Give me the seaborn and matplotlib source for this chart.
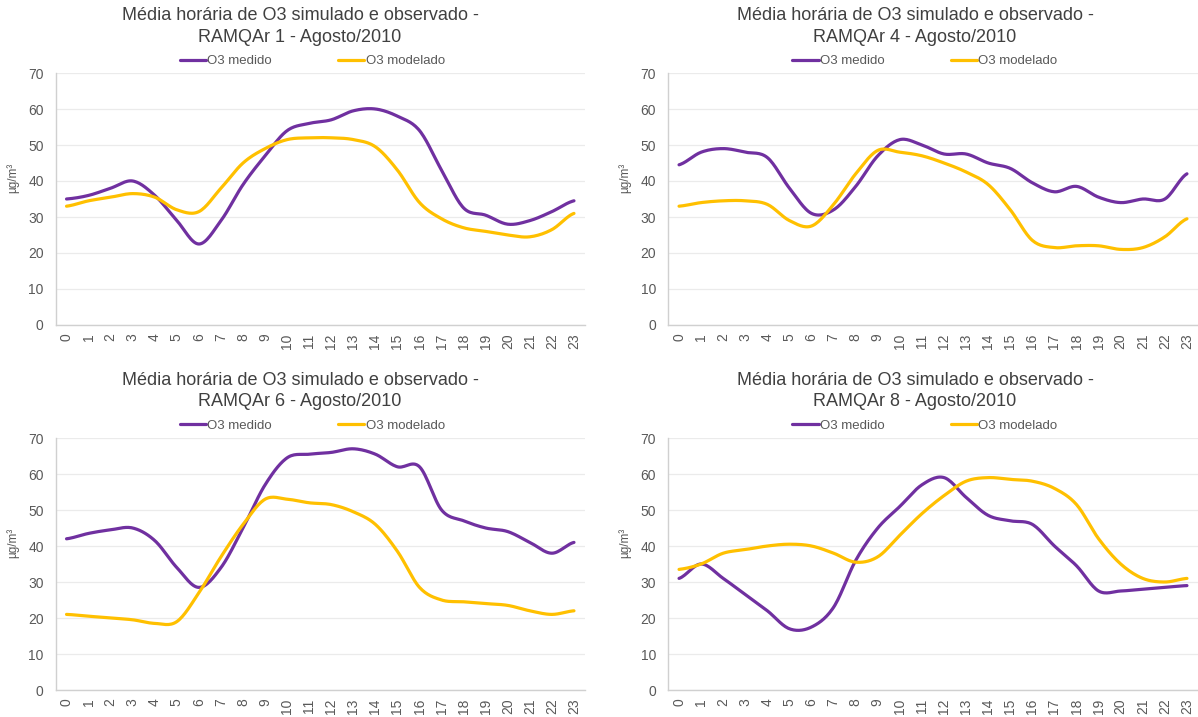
import numpy as np
import pandas as pd
import matplotlib
matplotlib.use("Agg")
import matplotlib.pyplot as plt
import seaborn as sns

# ==========================================
# DATA
# ==========================================
hours = list(range(24))

estacoes = ["RAMQAr 1", "RAMQAr 4", "RAMQAr 6", "RAMQAr 8"]

medido_r1 = [35, 36, 38, 40, 36, 29, 22.5, 29, 39, 47, 54, 56, 57, 59.5, 60, 58, 54, 43, 32.5, 30.5, 28, 29, 31.5, 34.5]
modelado_r1 = [33, 34.5, 35.5, 36.5, 35.5, 32, 31.5, 38, 45, 49, 51.5, 52, 52, 51.5, 49.5, 43, 34, 29.5, 27, 26, 25, 24.5, 26.5, 31]

medido_r4 = [44.5, 48, 49, 48, 46.5, 38, 31, 32, 38.5, 47, 51.5, 50, 47.5, 47.5, 45, 43.5, 39.5, 37, 38.5, 35.5, 34, 35, 35, 42]
modelado_r4 = [33, 34, 34.5, 34.5, 33.5, 29, 27.5, 33.5, 42, 48.5, 48, 47, 45, 42.5, 39, 32, 23.5, 21.5, 22, 22, 21, 21.5, 24.5, 29.5]

medido_r6 = [42, 43.5, 44.5, 45, 41.5, 34, 28.5, 34, 45, 57, 64.5, 65.5, 66, 67, 65.5, 62, 62, 50, 47, 45, 44, 41, 38, 41]
modelado_r6 = [21, 20.5, 20, 19.5, 18.5, 19, 27, 37, 46, 53, 53, 52, 51.5, 49.5, 46, 38.5, 28.5, 25, 24.5, 24, 23.5, 22, 21, 22]

medido_r8 = [31, 35, 31, 26.5, 22, 17, 17.5, 23, 36, 45, 51, 57, 59, 53.5, 48.5, 47, 46, 40, 34.5, 27.5, 27.5, 28, 28.5, 29]
modelado_r8 = [33.5, 35, 38, 39, 40, 40.5, 40, 38, 35.5, 37, 43, 49, 54, 58, 59, 58.5, 58, 56, 51.5, 42, 35, 31, 30, 31]

medidos = [medido_r1, medido_r4, medido_r6, medido_r8]
modelados = [modelado_r1, modelado_r4, modelado_r6, modelado_r8]

COR_MEDIDO = "#7030A0"
COR_MODELADO = "#FFC000"
COR_TEXTO = "#595959"


def suavizar(x, y, n=16):
    # Excel-like smoothed line (Catmull-Rom through the data points)
    x = np.asarray(x, float)
    y = np.asarray(y, float)
    px = np.concatenate([[2 * x[0] - x[1]], x, [2 * x[-1] - x[-2]]])
    py = np.concatenate([[y[0]], y, [y[-1]]])
    xs, ys = [], []
    for i in range(len(x) - 1):
        t = np.linspace(0, 1, n, endpoint=(i == len(x) - 2))
        for p, out in ((px, xs), (py, ys)):
            p0, p1, p2, p3 = p[i], p[i + 1], p[i + 2], p[i + 3]
            out.append(0.5 * (2 * p1 + (-p0 + p2) * t + (2 * p0 - 5 * p1 + 4 * p2 - p3) * t ** 2
                              + (-p0 + 3 * p1 - 3 * p2 + p3) * t ** 3))
    return np.concatenate(xs), np.concatenate(ys)


# ==========================================
# PLOT
# ==========================================
sns.set_style("white")
plt.rcParams['font.family'] = ['Liberation Sans', 'DejaVu Sans']

W, H = 1198, 717
fig = plt.figure(figsize=(W / 100, H / 100), dpi=100)

# axes boxes in pixels: (left, top, right, bottom)
caixas = [(55.5, 73, 585, 325), (668, 73, 1198, 325),
          (55.5, 438, 585, 690), (668, 438, 1198, 690)]
centros_titulo = [300, 915, 300, 915]

for k, (l, t, r, b) in enumerate(caixas):
    ax = fig.add_axes([l / W, 1 - b / H, (r - l) / W, (b - t) / H])

    xs, ys = suavizar(hours, medidos[k])
    sns.lineplot(x=xs, y=ys, ax=ax, color=COR_MEDIDO, linewidth=2.3,
                 label="O3 medido", sort=False, estimator=None)
    xs, ys = suavizar(hours, modelados[k])
    sns.lineplot(x=xs, y=ys, ax=ax, color=COR_MODELADO, linewidth=2.3,
                 label="O3 modelado", sort=False, estimator=None)

    ax.set_xlim(-0.5, 23.5)
    ax.set_ylim(0, 70)
    ax.set_xticks(hours)
    ax.set_xticklabels([str(h) for h in hours], rotation=90)
    ax.set_yticks(range(0, 71, 10))
    ax.tick_params(axis='both', length=0, labelsize=10, labelcolor=COR_TEXTO)
    ax.tick_params(axis='y', pad=8.5)
    ax.tick_params(axis='x', pad=6)
    ax.grid(axis='y', color='#EBEBEB', linewidth=0.9)
    ax.set_axisbelow(True)
    for s in ['top', 'right']:
        ax.spines[s].set_visible(False)
    for s in ['left', 'bottom']:
        ax.spines[s].set_color('#D0D0D0')
        ax.spines[s].set_linewidth(1.0)
    ax.set_xlabel("")
    ax.set_ylabel("")

    leg = ax.legend(loc='center', bbox_to_anchor=(0.485, 1 + 12 / 252), ncol=2,
                    frameon=False, fontsize=9.5, handlelength=2.0, handletextpad=0.1,
                    columnspacing=5.0, borderaxespad=0)
    for txt in leg.get_texts():
        txt.set_color(COR_TEXTO)

    cx = centros_titulo[k] / W
    fig.text(cx, 1 - (t - 58) / H, "Média horária de O3 simulado e observado -",
             ha='center', va='center', fontsize=13, color='#404040')
    fig.text(cx, 1 - (t - 36) / H, f"{estacoes[k]} - Agosto/2010",
             ha='center', va='center', fontsize=13, color='#404040')

    fig.text((l - 43) / W, 1 - (t + 105) / H, "µg/m³", rotation=90,
             ha='center', va='center', fontsize=8.5, color=COR_TEXTO)

fig.savefig("out.png", dpi=100, facecolor='white')
